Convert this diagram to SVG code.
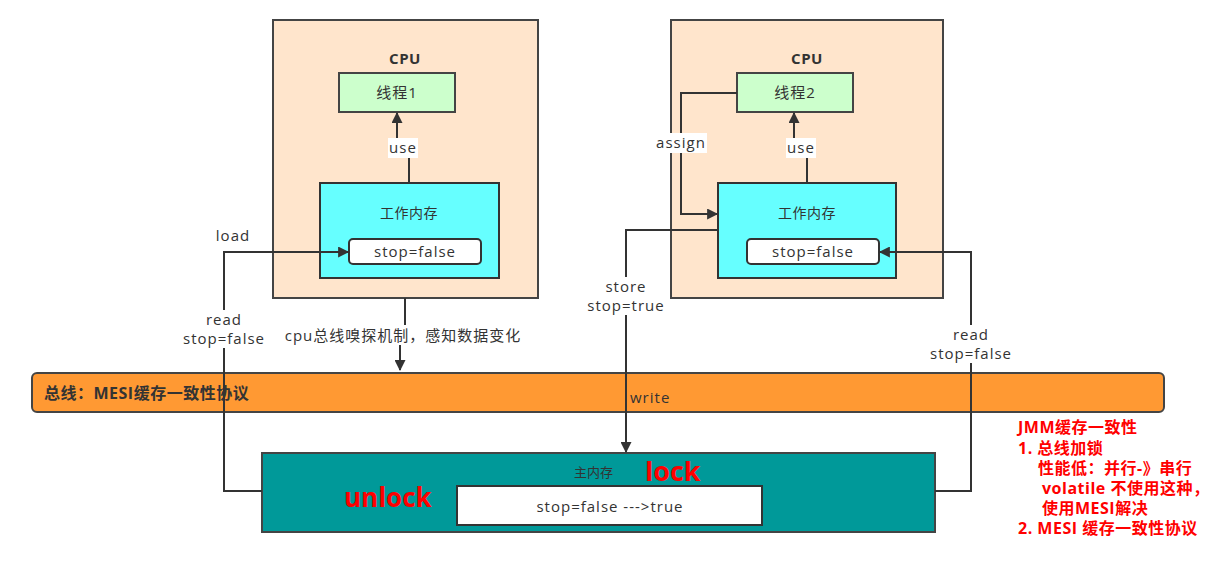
<svg xmlns="http://www.w3.org/2000/svg" width="1216" height="564" viewBox="0 0 1216 564">
<defs>
<marker id="ah" viewBox="0 0 10 10" refX="9" refY="5" markerWidth="12" markerHeight="11" markerUnits="userSpaceOnUse" orient="auto"><path d="M0,0 L10,5 L0,10 z" fill="#333"/></marker>
<style>
text{font-family:"Open Sans","Noto Sans CJK SC",sans-serif;fill:#333;font-size:15px;letter-spacing:1px}
.b{font-weight:bold;letter-spacing:0.5px}
.c{text-anchor:middle}
.cpu{fill:#FFE5CC;stroke:#444;stroke-width:2}
.th{fill:#CCFFCC;stroke:#444;stroke-width:2}
.wm{fill:#66FFFF;stroke:#333;stroke-width:2}
.val{fill:#fff;stroke:#333;stroke-width:2}
.ln{fill:none;stroke:#333;stroke-width:2}
.red{fill:#FF0000;font-weight:bold;font-size:16px;letter-spacing:0.5px}
.bg{fill:#fff}
.wt{font-size:14px;letter-spacing:0.5px}
</style>
</defs>
<g id="cpu1">
<rect class="cpu" x="273" y="20" width="265" height="278"/>
<text class="b c" x="405" y="64">CPU</text>
</g>
<g id="thread1">
<rect class="th" x="339" y="73" width="116" height="39"/>
<text class="c" x="397" y="98">线程1</text>
</g>
<g id="work1">
<rect class="wm" x="320" y="183" width="179" height="95"/>
<text class="c wt" x="409" y="218">工作内存</text>
<rect class="val" x="349" y="239" width="132" height="25" rx="4"/>
<text class="c" x="415" y="257">stop=false</text>
</g>
<g id="cpu2">
<rect class="cpu" x="671" y="20" width="272" height="278"/>
<text class="b c" x="807" y="64">CPU</text>
</g>
<g id="thread2">
<rect class="th" x="737" y="73" width="116" height="39"/>
<text class="c" x="795" y="98">线程2</text>
</g>
<g id="work2">
<rect class="wm" x="718" y="183" width="178" height="95"/>
<text class="c wt" x="807" y="218">工作内存</text>
<rect class="val" x="747" y="239" width="132" height="25" rx="4"/>
<text class="c" x="813" y="257">stop=false</text>
</g>
<g id="bus">
<rect x="32" y="373" width="1132" height="39" rx="5" fill="#FF9933" stroke="#444" stroke-width="2"/>
</g>
<g id="main">
<rect x="262" y="453" width="673" height="79" fill="#009999" stroke="#444" stroke-width="2"/>
<text x="574" y="477" style="font-size:13px;letter-spacing:0">主内存</text>
<text class="red" x="645" y="481" style="font-size:27px;letter-spacing:0">lock</text>
<text class="red" x="344" y="507" style="font-size:26px;letter-spacing:0">unlock</text>
<rect class="val" x="457" y="486" width="305" height="39"/>
<text class="c" x="610" y="512">stop=false ---&gt;true</text>
</g>
<g id="connectors">
<path class="ln" d="M409 183 V150 H397 V113" marker-end="url(#ah)"/>
<path class="ln" d="M807 183 V150 H794 V113" marker-end="url(#ah)"/>
<path class="ln" d="M737 93 H681 V214 H717" marker-end="url(#ah)"/>
<path class="ln" d="M718 230 H626 V452" marker-end="url(#ah)"/>
<path class="ln" d="M262 491 H224 V252 H348" marker-end="url(#ah)"/>
<path class="ln" d="M935 491 H971 V252 H880" marker-end="url(#ah)"/>
<path class="ln" d="M405 298 V340 H400 V370" marker-end="url(#ah)"/>
</g>
<g id="labels">
<rect class="bg" x="388" y="138" width="30" height="20"/>
<text class="c" x="403" y="153">use</text>
<rect class="bg" x="786" y="138" width="30" height="20"/>
<text class="c" x="801" y="153">use</text>
<rect class="bg" x="656" y="133" width="51" height="20"/>
<text class="c" x="681" y="148">assign</text>
<text class="c" x="233" y="241">load</text>
<rect class="bg" x="181" y="310" width="86" height="38"/>
<text class="c" x="224" y="325">read</text>
<text class="c" x="224" y="344">stop=false</text>
<rect class="bg" x="586" y="277" width="80" height="38"/>
<text class="c" x="626" y="292">store</text>
<text class="c" x="626" y="311">stop=true</text>
<rect class="bg" x="928" y="325" width="86" height="38"/>
<text class="c" x="971" y="340">read</text>
<text class="c" x="971" y="359">stop=false</text>
<rect class="bg" x="281" y="325" width="244" height="20"/>
<text class="c" x="403" y="341">cpu总线嗅探机制，感知数据变化</text>
<text x="630" y="403">write</text>
<text class="b" x="44" y="399" style="font-size:16px">总线：MESI缓存一致性协议</text>
</g>
<g id="notes">
<text class="red" x="1018" y="433">JMM缓存一致性</text>
<text class="red" x="1018" y="454">1. 总线加锁</text>
<text class="red" x="1038" y="474">性能低：并行-》串行</text>
<text class="red" x="1042" y="494">volatile 不使用这种，</text>
<text class="red" x="1042" y="514">使用MESI解决</text>
<text class="red" x="1018" y="534">2. MESI 缓存一致性协议</text>
</g>
</svg>
